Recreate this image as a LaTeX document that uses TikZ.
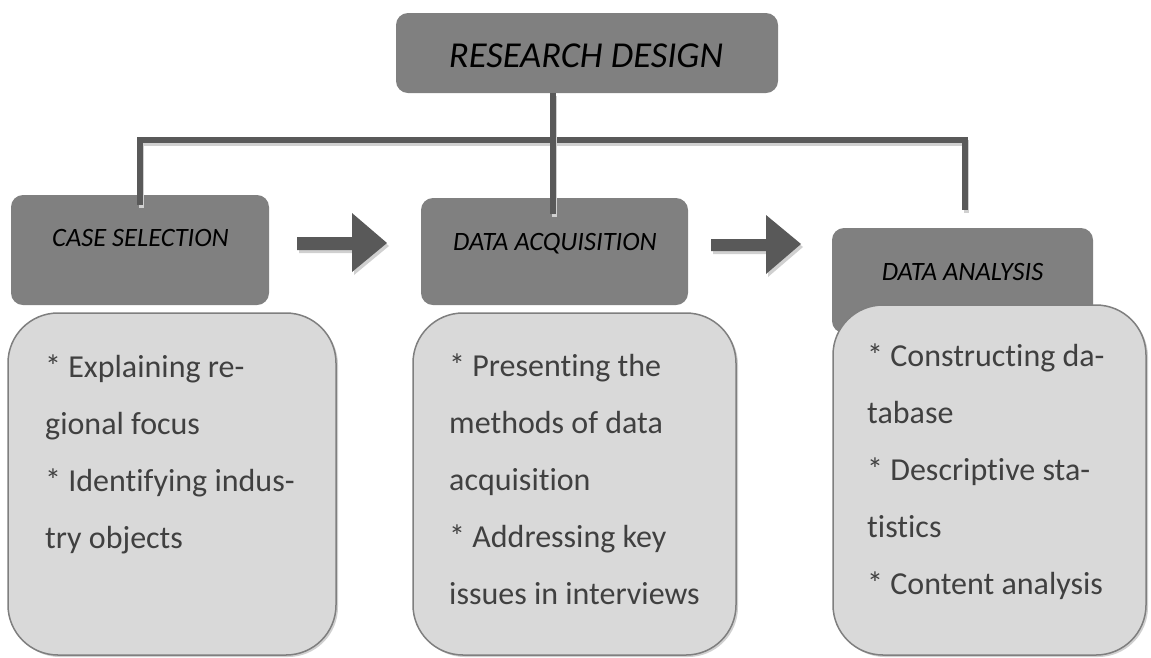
\documentclass[tikz,border=0pt]{standalone}
\usepackage{fontspec}
\setmainfont{Carlito}[Ligatures={NoCommon}]
\usetikzlibrary{calc,shadows}
\definecolor{boxdark}{HTML}{808080}
\definecolor{boxlight}{HTML}{D9D9D9}
\definecolor{linegray}{HTML}{595959}
\definecolor{shadowgray}{HTML}{D0D0D0}
\definecolor{bodytext}{HTML}{404040}
\definecolor{edgegray}{HTML}{7F7F7F}
\begin{document}
\begin{tikzpicture}[x=1pt,y=-1pt,
  headbox/.style={rectangle, rounded corners=12pt, fill=boxdark, inner sep=0pt},
  listbox/.style={rectangle, rounded corners=50pt, fill=boxlight, draw=edgegray, line width=1.5pt, inner sep=0pt,
    drop shadow={shadow xshift=2pt, shadow yshift=-2pt, fill=shadowgray, opacity=1}},
  headtxt/.style={anchor=base, inner sep=0pt, font=\fontsize{26.5}{30}\selectfont\itshape, text=black},
  bodytxt/.style={anchor=base west, inner sep=0pt, font=\fontsize{32}{38}\selectfont, text=bodytext},
  conn/.style={draw=linegray, line width=5.5pt,
    preaction={draw=shadowgray, line width=5.5pt, transform canvas={xshift=1.5pt, yshift=-3pt}}},
  flowarrow/.style={fill=linegray,
    preaction={fill=shadowgray, transform canvas={xshift=2pt, yshift=-3pt}}}
]
\useasboundingbox[fill=white] (0,0) rectangle (1151,657);

% top box
\node[headbox, minimum width=382pt, minimum height=80pt] (rd) at (587,53) {};
\node[anchor=base, inner sep=0pt, font=\fontsize{36.5}{40}\selectfont\itshape] (rdt) at (586,67) {RESEARCH DESIGN};

% heading boxes
\node[headbox, minimum width=258pt, minimum height=110pt] (cs) at (140,250) {};
\node[headbox, minimum width=267pt, minimum height=107pt] (da) at (554.5,251.5) {};
\node[headbox, minimum width=261pt, minimum height=105pt] (an) at (962.5,280.5) {};

% list boxes
\node[listbox, minimum width=328pt, minimum height=342pt] (l1) at (172,484) {};
\node[listbox, minimum width=323pt, minimum height=342pt] (l2) at (574.5,484) {};
\node[listbox, minimum width=313pt, minimum height=350pt] (l3) at (989.5,480) {};

% heading texts
\node[headtxt] (cst) at (140.5,246) {CASE SELECTION};
\node[headtxt] (dat) at (555,250) {DATA ACQUISITION};
\node[headtxt] (ant) at (962.5,280) {DATA ANALYSIS};

% connectors
\coordinate (jl) at (140,140);
\coordinate (jm) at (553,140);
\coordinate (jr) at (965,140);
\draw[conn] ($(cs.north -| jl)+(0,10)$) -- (jl) -- (jr) -- ($(an.north -| jr)+(0,-18)$);
\draw[conn] (rd.south -| jm) -- ($(da.north -| jm)+(0,16)$);

% flow arrows
\fill[flowarrow] (297,237) -- (352,237) -- (352,213) -- (387,243) -- (352,272) -- (352,250) -- (297,250) -- cycle;
\fill[flowarrow] (711,239) -- (766,239) -- (766,215) -- (801,244) -- (766,274) -- (766,251) -- (711,251) -- cycle;

% body texts
\foreach \t [count=\i] in {{* Explaining re-},{gional focus},{* Identifying indus-},{try objects}}
  \node[bodytxt] (ta\i) at (45,{377+57*(\i-1)}) {\t};
\foreach \t [count=\i] in {{* Presenting the},{methods of data},{acquisition},{* Addressing key},{issues in interviews}}
  \node[bodytxt] (tb\i) at (449,{376+57*(\i-1)}) {\t};
\foreach \t [count=\i] in {{* Constructing da-},{tabase},{* Descriptive sta-},{tistics},{* Content analysis}}
  \node[bodytxt] (tc\i) at (867,{366+57*(\i-1)}) {\t};
\end{tikzpicture}
\end{document}
